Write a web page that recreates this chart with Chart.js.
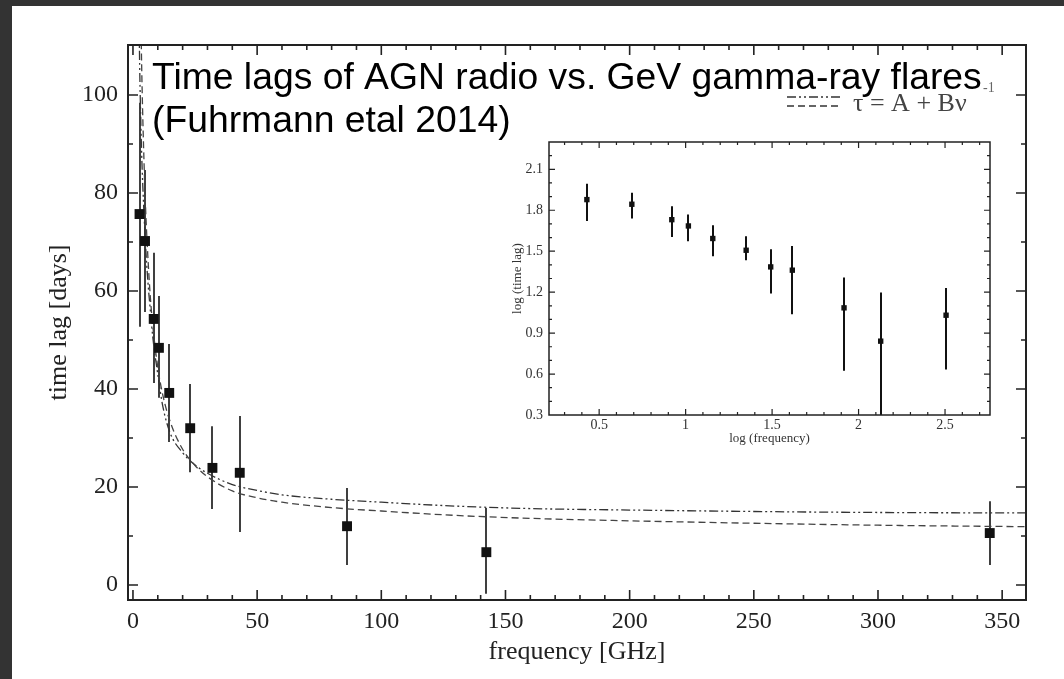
<!DOCTYPE html>
<html><head><meta charset="utf-8">
<script src="https://cdn.jsdelivr.net/npm/chart.js@4.4.0/dist/chart.umd.min.js"></script>
<style>
html,body{margin:0;padding:0;background:#333;width:1064px;height:679px;overflow:hidden}
#wrap{position:absolute;left:12px;top:6px;width:1052px;height:673px;background:#fff}
#main{position:absolute;left:0;top:0;width:1052px;height:673px}
#inset{position:absolute;left:483px;top:120px;width:509px;height:324px}
</style></head><body>
<div id="wrap"><canvas id="main" width="1052" height="673"></canvas><canvas id="inset" width="509" height="324"></canvas></div>
<script>
// ---- main panel data ----
const freq  = [2.64, 4.85, 8.35, 10.45, 14.6, 23.05, 32, 43, 86.2, 142.3, 345];
const lag   = [75.7, 70.2, 54.3, 48.4, 39.2, 32.0, 23.9, 22.9, 12.0, 6.7, 10.6];
const lagLo = [52.7, 55.7, 41.2, 38.2, 29.2, 23.0, 15.5, 10.8, 4.1, -1.8, 4.1];
const lagHi = [98.4, 84.7, 67.8, 59.0, 49.2, 41.0, 32.4, 34.5, 19.8, 15.7, 17.1];
// fit curves
const dashDotX = [2.4, 2.7, 3, 3.5, 4, 5, 6, 7, 8, 10, 12, 15, 20, 25, 30, 40, 50, 60, 80, 100, 130, 160, 200, 250, 300, 360];
const dashDotY = [118, 106, 98, 88, 81, 70, 62, 56, 50.5, 43, 36.5, 31, 27, 24.5, 22.8, 20.5, 19.3, 18.4, 17.5, 16.9, 16.1, 15.6, 15.3, 15.0, 14.8, 14.7];
const dashedX  = [3, 3.5, 4, 5, 6, 7, 8, 10, 12, 15, 20, 25, 30, 40, 50, 60, 80, 100, 130, 160, 200, 250, 300, 360];
const dashedY  = [122, 106, 94.5, 78, 67, 58.7, 52.8, 44.4, 38.8, 33.3, 27.7, 24.4, 22.1, 19.2, 17.8, 16.9, 15.8, 15.1, 14.2, 13.6, 13.1, 12.6, 12.2, 11.9];
const xTicks = [0, 50, 100, 150, 200, 250, 300, 350];
const yTicks = [0, 20, 40, 60, 80, 100];
// ---- inset data ----
const logF   = [0.429, 0.689, 0.920, 1.016, 1.157, 1.350, 1.492, 1.617, 1.916, 2.128, 2.506];
const logL   = [1.878, 1.844, 1.731, 1.685, 1.593, 1.507, 1.385, 1.361, 1.085, 0.841, 1.031];
const logLo  = [1.721, 1.739, 1.604, 1.573, 1.463, 1.434, 1.190, 1.039, 0.624, 0.200, 0.634];
const logHi  = [1.995, 1.929, 1.829, 1.768, 1.690, 1.610, 1.514, 1.539, 1.307, 1.198, 1.231];
const insetXTicks = [0.5, 1, 1.5, 2, 2.5];
const insetXLabels = ['0.5', '1', '1.5', '2', '2.5'];
const insetYTicks = [0.3, 0.6, 0.9, 1.2, 1.5, 1.8, 2.1];
const insetYLabels = ['0.3', '0.6', '0.9', '1.2', '1.5', '1.8', '2.1'];

const SERIF = "'Liberation Serif','Times New Roman',serif";
const SANS = "'Liberation Sans',Arial,sans-serif";
const DASHDOT = [9, 3, 2, 3, 2, 3];
const DASHED = [7, 4];

function range(a, b, s) { const r = []; for (let v = a; v <= b + 1e-9; v += s) r.push(Math.round(v * 1000) / 1000); return r; }

function makeErrPlugin(xs, lo, hi, color, width) {
  return {
    id: 'err' + Math.random().toString(36).slice(2),
    beforeDatasetsDraw(chart) {
      const { ctx, chartArea: a, scales: { x, y } } = chart;
      ctx.save();
      ctx.beginPath(); ctx.rect(a.left, a.top, a.right - a.left, a.bottom - a.top); ctx.clip();
      ctx.strokeStyle = color; ctx.lineWidth = width;
      ctx.beginPath();
      xs.forEach((xv, i) => {
        const px = Math.round(x.getPixelForValue(xv));
        ctx.moveTo(px, y.getPixelForValue(lo[i]));
        ctx.lineTo(px, y.getPixelForValue(hi[i]));
      });
      ctx.stroke();
      ctx.restore();
    }
  };
}

function makeFramePlugin(o) {
  return {
    id: 'frame' + Math.random().toString(36).slice(2),
    afterDatasetsDraw(chart) {
      const { ctx, chartArea: a, scales: { x, y } } = chart;
      ctx.save();
      ctx.strokeStyle = o.color; ctx.lineWidth = o.tickWidth;
      ctx.beginPath();
      const xt = (vals, len) => vals.forEach(v => {
        const p = x.getPixelForValue(v);
        if (p < a.left + 1 || p > a.right - 1) return;
        ctx.moveTo(p, a.bottom); ctx.lineTo(p, a.bottom - len);
        ctx.moveTo(p, a.top); ctx.lineTo(p, a.top + len);
      });
      const yt = (vals, len) => vals.forEach(v => {
        const p = y.getPixelForValue(v);
        if (p < a.top + 1 || p > a.bottom - 1) return;
        ctx.moveTo(a.left, p); ctx.lineTo(a.left + len, p);
        ctx.moveTo(a.right, p); ctx.lineTo(a.right - len, p);
      });
      xt(o.xMajor, o.majLen); xt(o.xMinor, o.minLen);
      yt(o.yMajor, o.majLen); yt(o.yMinor, o.minLen);
      ctx.stroke();
      ctx.lineWidth = o.lw;
      ctx.strokeRect(a.left, a.top, a.right - a.left, a.bottom - a.top);
      ctx.restore();
    }
  };
}

const textPlugin = {
  id: 'texts',
  afterDraw(chart) {
    const { ctx } = chart;
    ctx.save();
    // legend samples
    ctx.strokeStyle = '#333'; ctx.lineWidth = 1.3;
    ctx.setLineDash(DASHDOT);
    ctx.beginPath(); ctx.moveTo(775, 91); ctx.lineTo(828, 91); ctx.stroke();
    ctx.setLineDash(DASHED);
    ctx.beginPath(); ctx.moveTo(775, 100); ctx.lineTo(828, 100); ctx.stroke();
    ctx.setLineDash([]);
    ctx.fillStyle = '#444';
    ctx.textBaseline = 'alphabetic'; ctx.textAlign = 'left';
    ctx.font = '26px ' + SERIF;
    ctx.fillText('\u03C4 = A + B\u03BD', 841, 105);
    ctx.font = '14px ' + SERIF;
    ctx.fillStyle = '#666';
    ctx.fillText('-1', 971, 86);
    // title
    ctx.fillStyle = '#000';
    ctx.font = '37.3px ' + SANS;
    ctx.fillText('Time lags of AGN radio vs. GeV gamma-ray flares', 140, 83);
    ctx.fillText('(Fuhrmann etal 2014)', 140, 126);
    ctx.restore();
  }
};

new Chart(document.getElementById('main'), {
  type: 'scatter',
  data: {
    datasets: [
      { label: 'data', data: freq.map((f, i) => ({ x: f, y: lag[i] })), pointStyle: 'rect', pointRadius: 7, pointBackgroundColor: '#111', pointBorderWidth: 0, showLine: false, order: 0 },
      { label: 'dash-dot', data: dashDotX.map((f, i) => ({ x: f, y: dashDotY[i] })), showLine: true, borderColor: '#333', borderWidth: 1.3, borderDash: DASHDOT, pointRadius: 0, cubicInterpolationMode: 'monotone', order: 2 },
      { label: 'dashed', data: dashedX.map((f, i) => ({ x: f, y: dashedY[i] })), showLine: true, borderColor: '#444', borderWidth: 1.3, borderDash: DASHED, pointRadius: 0, cubicInterpolationMode: 'monotone', order: 1 }
    ]
  },
  options: {
    responsive: false, animation: false, devicePixelRatio: 1,
    layout: { padding: { top: 39, right: 38, left: 0, bottom: 0 } },
    scales: {
      x: {
        type: 'linear', min: -2, max: 359.6,
        afterBuildTicks: s => { s.ticks = xTicks.map(v => ({ value: v })); },
        afterFit: s => { s.height = 79; },
        grid: { display: false, drawTicks: false }, border: { display: false },
        ticks: { font: { family: SERIF, size: 24 }, color: '#222', padding: 7, maxRotation: 0, callback: v => String(v) },
        title: { display: true, text: 'frequency [GHz]', font: { family: SERIF, size: 26 }, color: '#222', padding: { top: 0, bottom: 11 } }
      },
      y: {
        type: 'linear', min: -3.06, max: 110.2,
        afterBuildTicks: s => { s.ticks = yTicks.map(v => ({ value: v })); },
        afterFit: s => { s.width = 116; },
        grid: { display: false, drawTicks: false }, border: { display: false },
        ticks: { font: { family: SERIF, size: 24 }, color: '#222', padding: 10, callback: v => String(v) },
        title: { display: true, text: 'time lag [days]', font: { family: SERIF, size: 26 }, color: '#222', padding: { top: 32, bottom: 0 } }
      }
    },
    plugins: { legend: { display: false }, tooltip: { enabled: false } }
  },
  plugins: [
    makeErrPlugin(freq, lagLo, lagHi, '#111', 1.6),
    makeFramePlugin({ xMajor: xTicks, xMinor: range(0, 360, 10).filter(v => v % 50 !== 0), yMajor: yTicks, yMinor: range(10, 110, 20), majLen: 10, minLen: 5, lw: 2, tickWidth: 1.6, color: '#222' }),
    textPlugin
  ]
});

new Chart(document.getElementById('inset'), {
  type: 'scatter',
  data: {
    datasets: [
      { label: 'log', data: logF.map((f, i) => ({ x: f, y: logL[i] })), pointStyle: 'rect', pointRadius: 3.8, pointBackgroundColor: '#111', pointBorderWidth: 0, showLine: false }
    ]
  },
  options: {
    responsive: false, animation: false, devicePixelRatio: 1,
    layout: { padding: { top: 16, right: 14, left: 0, bottom: 0 } },
    scales: {
      x: {
        type: 'linear', min: 0.21, max: 2.76,
        afterBuildTicks: s => { s.ticks = insetXTicks.map(v => ({ value: v })); },
        afterFit: s => { s.height = 35; },
        grid: { display: false, drawTicks: false }, border: { display: false },
        ticks: { font: { family: SERIF, size: 14 }, color: '#333', padding: 2, maxRotation: 0, callback: v => insetXLabels[insetXTicks.indexOf(v)] },
        title: { display: true, text: 'log (frequency)', font: { family: SERIF, size: 13 }, color: '#333', padding: { top: 0, bottom: 4 } }
      },
      y: {
        type: 'linear', min: 0.3, max: 2.3,
        afterBuildTicks: s => { s.ticks = insetYTicks.map(v => ({ value: v })); },
        afterFit: s => { s.width = 54; },
        grid: { display: false, drawTicks: false }, border: { display: false },
        ticks: { font: { family: SERIF, size: 14 }, color: '#333', padding: 6, callback: v => insetYLabels[insetYTicks.indexOf(v)] },
        title: { display: true, text: 'log (time lag)', font: { family: SERIF, size: 13 }, color: '#333', padding: { top: 15, bottom: 0 } }
      }
    },
    plugins: { legend: { display: false }, tooltip: { enabled: false } }
  },
  plugins: [
    makeErrPlugin(logF, logLo, logHi, '#111', 2),
    makeFramePlugin({ xMajor: insetXTicks, xMinor: range(0.3, 2.7, 0.1).filter(v => Math.abs(v * 2 - Math.round(v * 2)) > 1e-6), yMajor: insetYTicks, yMinor: range(0.4, 2.3, 0.1).filter(v => Math.abs(v / 0.3 - Math.round(v / 0.3)) > 1e-6), majLen: 6, minLen: 3, lw: 1.5, tickWidth: 1.2, color: '#222' })
  ]
});
</script>
</body></html>
